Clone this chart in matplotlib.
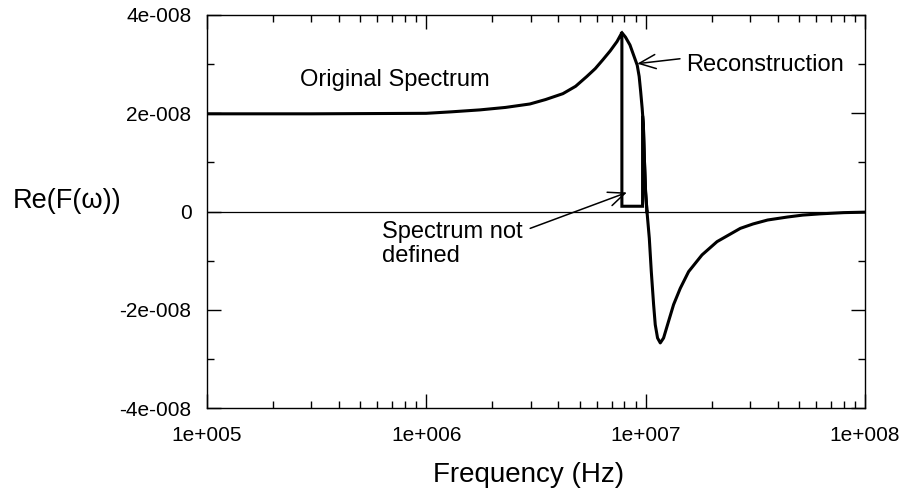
import matplotlib
matplotlib.use("Agg")
import matplotlib.pyplot as plt
from matplotlib import ticker

plt.rcParams['font.family'] = ['Liberation Sans', 'DejaVu Sans']

# ---- data ----
# original spectrum: rise to the resonance peak, undefined gap, then back on the curve
orig_freq = [1.0e5, 3.0e5, 1.0e6, 1.3e6, 1.76e6, 2.3e6, 2.97e6, 3.5e6, 4.2e6,
             4.8e6, 5.4e6, 5.9e6, 6.39e6, 6.9e6, 7.41e6, 7.8e6,
             7.8e6, 9.69e6, 9.69e6, 9.77e6, 9.87e6, 1.0e7, 1.015e7]
orig_val = [1.99, 1.99, 2.00, 2.03, 2.07, 2.12, 2.19, 2.28, 2.40,
            2.55, 2.75, 2.91, 3.09, 3.27, 3.46, 3.64,
            0.11, 0.11, 1.95, 1.77, 1.10, 0.41, 0.0]
# reconstruction inside the undefined band
recon_freq = [7.8e6, 8.1e6, 8.49e6, 9.16e6, 9.35e6, 9.50e6, 9.65e6, 9.77e6,
              9.87e6, 1.0e7, 1.015e7]
recon_val = [3.64, 3.55, 3.39, 2.98, 2.75, 2.44, 2.10, 1.77,
             1.10, 0.41, 0.0]
# common tail above the band
tail_freq = [1.015e7, 1.040e7, 1.062e7, 1.088e7, 1.107e7, 1.134e7, 1.167e7,
             1.208e7, 1.273e7, 1.342e7, 1.439e7, 1.571e7, 1.808e7, 2.117e7,
             2.703e7, 3.09e7, 3.6e7, 4.42e7, 5.2e7, 6.24e7, 8.0e7, 1.0e8]
tail_val = [0.0, -0.54, -1.22, -1.89, -2.30, -2.57, -2.67,
            -2.57, -2.23, -1.89, -1.56, -1.22, -0.88, -0.61,
            -0.34, -0.25, -0.17, -0.11, -0.07, -0.045, -0.02, -0.01]
scale = 1e-8

x_ticks = [1e5, 1e6, 1e7, 1e8]
x_tick_labels = ["1e+005", "1e+006", "1e+007", "1e+008"]
y_ticks = [-4e-8, -2e-8, 0, 2e-8, 4e-8]
y_tick_labels = ["-4e-008", "-2e-008", "0", "2e-008", "4e-008"]

W, H = 905, 495
fig = plt.figure(figsize=(W / 100, H / 100), dpi=100)
ax = fig.add_axes([206.7 / W, 1 - 408.3 / H, (865 - 206.7) / W, (408.3 - 15) / H])

lw = 2.2
ax.plot(orig_freq, [v * scale for v in orig_val], color='black', lw=lw,
        solid_joinstyle='miter')
ax.plot(recon_freq, [v * scale for v in recon_val], color='black', lw=lw,
        solid_joinstyle='round')
ax.plot(tail_freq, [v * scale for v in tail_val], color='black', lw=lw,
        solid_joinstyle='round')
ax.axhline(0, color='black', lw=0.9)

ax.set_xscale('log')
ax.set_xlim(1e5, 1e8)
ax.set_ylim(-4e-8, 4e-8)

ax.xaxis.set_major_locator(ticker.FixedLocator(x_ticks))
ax.xaxis.set_major_formatter(ticker.FixedFormatter(x_tick_labels))
ax.xaxis.set_minor_locator(ticker.LogLocator(base=10, subs=range(2, 10)))
ax.xaxis.set_minor_formatter(ticker.NullFormatter())
ax.yaxis.set_major_locator(ticker.FixedLocator(y_ticks))
ax.yaxis.set_major_formatter(ticker.FixedFormatter(y_tick_labels))
ax.yaxis.set_minor_locator(ticker.MultipleLocator(1e-8))

ax.tick_params(which='both', direction='in', top=True, right=True,
               width=1.0, labelsize=15, colors='black')
ax.tick_params(axis='x', which='major', pad=13)
ax.tick_params(axis='y', which='major', pad=11)
ax.tick_params(which='major', length=10.4)
ax.tick_params(which='minor', length=5.3)
for s in ax.spines.values():
    s.set_linewidth(1.0)

fs = 17
ax.text(2.665e5, 2.55e-8, "Original Spectrum", fontsize=fs, va='baseline', ha='left')
ax.text(1.535e7, 2.86e-8, "Reconstruction", fontsize=fs, va='baseline', ha='left')
ax.text(6.28e5, -0.54e-8, "Spectrum not", fontsize=fs, va='baseline', ha='left')
ax.text(6.28e5, -1.015e-8, "defined", fontsize=fs, va='baseline', ha='left')

arrow = dict(arrowstyle="->,head_length=0.7,head_width=0.3", color='black',
             lw=1.1, shrinkA=0, shrinkB=0)
ax.annotate("", xy=(9.16e6, 3.01e-8), xytext=(1.435e7, 3.11e-8),
            arrowprops=arrow, fontsize=fs)
ax.annotate("", xy=(8.22e6, 0.39e-8), xytext=(2.98e6, -0.34e-8),
            arrowprops=arrow, fontsize=fs)

fig.text(529 / W, 1 - 481.7 / H, "Frequency (Hz)", fontsize=20,
         ha='center', va='baseline')
fig.text(12.7 / W, 1 - 208.3 / H, "Re(F(\u03c9))", fontsize=19.5,
         ha='left', va='baseline')

fig.savefig("out.png", dpi=100)
